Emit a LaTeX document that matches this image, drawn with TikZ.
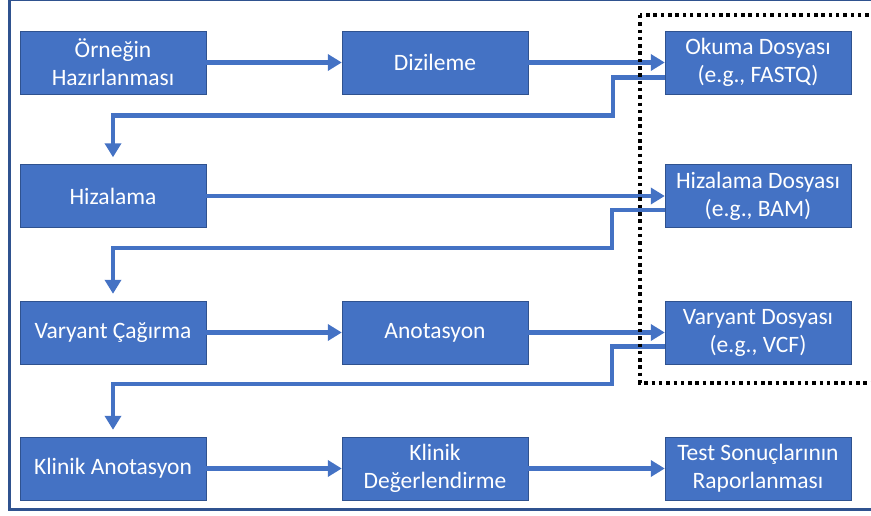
\documentclass[tikz,border=0pt]{standalone}
\usepackage{fontspec}
\setmainfont{Carlito}
\usetikzlibrary{arrows.meta,calc,positioning}
\definecolor{offblue}{HTML}{4472C4}
\definecolor{edgeblue}{HTML}{2F528F}
\tikzset{
  stepbox/.style = {rectangle, draw=edgeblue, fill=offblue, text=white,
    minimum width=186pt, minimum height=63pt, inner sep=0pt, align=center,
    font=\fontsize{23.5}{28}\selectfont},% kutular
  flow/.style = {-{Triangle[width=16pt,length=14pt]}, draw=offblue,
    line width=4.5pt},% akis oklari
  turn/.style = {flow, shorten >=7pt}% satir donusu
}

\begin{document}
\begin{tikzpicture}[x=1pt,y=-1pt]
\useasboundingbox (0,0) rectangle (871,516);
\draw[edgeblue, line width=3pt] (9,0) rectangle (890,509);

\node[stepbox] (ornek) at (113,62.5) {Örneğin\\Hazırlanması};
\node[stepbox] (dizi) at (435,62.5) {Dizileme};
\node[stepbox] (okuma) at (758,62.5) {Okuma Dosyası\\(e.g., FASTQ)};
\node[stepbox] (hizala) at (113,196) {Hizalama};
\node[stepbox] (hizdosya) at (758,196) {Hizalama Dosyası\\(e.g., BAM)};
\node[stepbox] (cagir) at (113,332.5) {Varyant Çağırma};
\node[stepbox] (anot) at (435,332.5) {Anotasyon};
\node[stepbox] (vardosya) at (758,332.5) {Varyant Dosyası\\(e.g., VCF)};
\node[stepbox] (klinik) at (113,468.5) {Klinik Anotasyon};
\node[stepbox] (degerl) at (435,468.5) {Klinik\\Değerlendirme};
\node[stepbox] (rapor) at (758,468.5) {Test Sonuçlarının\\Raporlanması};

\draw[flow] (ornek) -- (dizi);
\draw[flow] (dizi) -- (okuma);
\draw[flow] (hizala) -- (hizdosya);
\draw[flow] (cagir) -- (anot);
\draw[flow] (anot) -- (vardosya);
\draw[flow] (klinik) -- (degerl);
\draw[flow] (degerl) -- (rapor);

%\draw[turn] (okuma.south) |- (hizala.north);
\draw[turn] ([yshift=-15pt]okuma.west) -- ++(-52,0) |- ([yshift=49pt]hizala.north) -- (hizala.north);
\draw[turn] ([yshift=-14pt]hizdosya.west) -- ++(-53,0) |- ([yshift=53pt]cagir.north) -- (cagir.north);
\draw[turn] ([yshift=-14pt]vardosya.west) -- ++(-53,0) |- ([yshift=53pt]klinik.north) -- (klinik.north);

\draw[line width=3.5pt, dash pattern=on 3.5pt off 3.8pt] (640,15) rectangle (890,383);
\end{tikzpicture}
\end{document}
